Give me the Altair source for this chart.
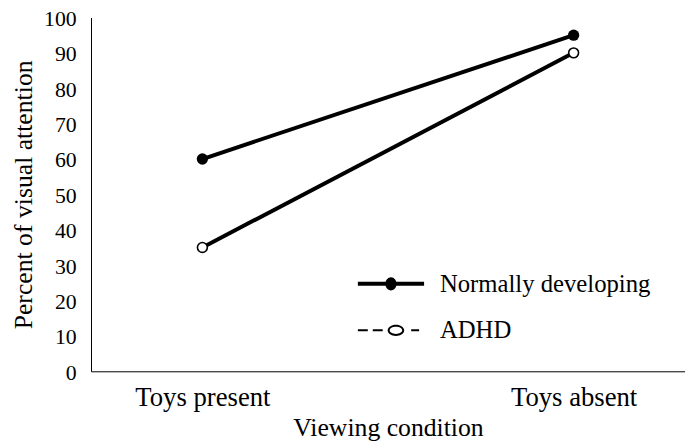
import altair as alt
import pandas as pd

conditions = ["Toys present", "Toys absent"]
series = ["Normally developing", "ADHD"]
normally_developing = [60, 95]
adhd = [35, 90]
y_ticks = [0, 10, 20, 30, 40, 50, 60, 70, 80, 90, 100]

rows = []
for name, vals in zip(series, [normally_developing, adhd]):
    for c, v in zip(conditions, vals):
        rows.append({"series": name, "condition": c, "value": v})
df = pd.DataFrame(rows)

SERIF = "Liberation Serif"
SERIF_ALT = "Times New Roman, Liberation Serif, serif"

# legend glyphs (custom SVG paths in unit space)
path_nd = ("M-1,-0.06H1V0.06H-1Z "
           "M-0.17,0 a0.17,0.2 0 1,1 0.34,0 a0.17,0.2 0 1,1 -0.34,0")
path_adhd = ("M-1,-0.03H-0.7V0.03H-1Z "
             "M-0.55,-0.03H-0.25V0.03H-0.55Z "
             "M0.61,-0.03H0.85V0.03H0.61Z "
             "M-0.1,0 a0.25,0.17 0 1,1 0.5,0 a0.25,0.17 0 1,1 -0.5,0 "
             "M-0.04,0 a0.19,0.11 0 1,0 0.38,0 a0.19,0.11 0 1,0 -0.38,0")

x_enc = alt.X(
    "condition:N",
    sort=conditions,
    scale=alt.Scale(type="point", padding=0.3),
    axis=alt.Axis(
        title="Viewing condition",
        labelAngle=0,
        labelFont=SERIF,
        labelFontSize=27,
        labelColor="black",
        labelPadding=14,
        ticks=False,
        domainColor="black",
        domainWidth=1,
        titleFont=SERIF,
        titleFontSize=26,
        titleFontWeight="normal",
        titleColor="black",
        titleBaseline="alphabetic",
        titleY=65,
    ),
)
y_enc = alt.Y(
    "value:Q",
    scale=alt.Scale(domain=[0, 100], nice=False),
    axis=alt.Axis(
        title="Percent of visual attention",
        values=y_ticks,
        grid=False,
        ticks=False,
        labelFont=SERIF_ALT,
        labelFontSize=22,
        labelFontWeight="normal",
        labelColor="black",
        labelPadding=15,
        labelOffset=1,
        labelOverlap=False,
        labelFlush=False,
        domainColor="black",
        domainWidth=1,
        titleFont=SERIF,
        titleFontSize=26,
        titleFontWeight="normal",
        titleColor="black",
        titleBaseline="alphabetic",
        titleAngle=-90,
        titleX=-60,
        titleY=179,
    ),
)

base = alt.Chart(df)

lines = base.mark_line(color="black", strokeWidth=4).encode(
    x=x_enc, y=y_enc, detail="series:N"
)

points_nd = base.transform_filter(alt.datum.series == series[0]).mark_point(
    shape="circle", filled=True, color="black", size=130, opacity=1
).encode(x=x_enc, y=y_enc)

points_adhd = base.transform_filter(alt.datum.series == series[1]).mark_point(
    shape="circle", fill="white", stroke="black", strokeWidth=1.6, size=100, opacity=1
).encode(x=x_enc, y=y_enc)

# helper layer that only supplies the legend (its own points are clipped away)
legend_layer = base.mark_point(filled=True, color="black", clip=True).encode(
    x=x_enc,
    y=alt.value(-1000),
    shape=alt.Shape(
        "series:N",
        scale=alt.Scale(domain=series, range=[path_nd, path_adhd]),
        legend=alt.Legend(
            title=None,
            orient="none",
            legendX=270,
            legendY=236,
            padding=0,
            symbolSize=4489,
            symbolStrokeWidth=0,
            symbolFillColor="black",
            symbolOpacity=1,
            labelFont=SERIF_ALT,
            labelFontSize=25,
            labelFontWeight="normal",
            labelColor="black",
            labelOffset=16,
            labelLimit=400,
            rowPadding=-59,
        ),
    ),
)

chart = (
    alt.layer(lines, points_nd, points_adhd, legend_layer)
    .properties(
        width=601,
        height=358,
        padding={"left": 84, "top": 7, "right": 0, "bottom": 73},
        autosize=alt.AutoSizeParams(type="none"),
        background="white",
    )
    .configure_view(stroke=None)
)

chart.save("out.html", embed_options={"renderer": "svg", "actions": False})
